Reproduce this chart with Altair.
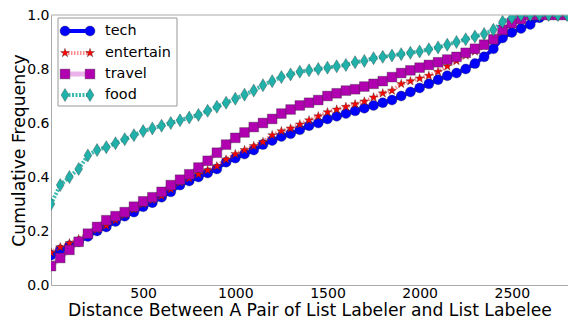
import altair as alt
import pandas as pd

# ---- data (CDF curves) ----
x_vals = [0, 50, 100, 150, 200, 250, 300, 350, 400, 450, 500, 550, 600, 650, 700,
          750, 800, 850, 900, 950, 1000, 1050, 1100, 1150, 1200, 1250, 1300, 1350,
          1400, 1450, 1500, 1550, 1600, 1650, 1700, 1750, 1800, 1850, 1900, 1950,
          2000, 2050, 2100, 2150, 2200, 2250, 2300, 2350, 2400, 2450, 2500, 2550,
          2600, 2650, 2700, 2750, 2800, 2850]

tech = [0.11, 0.13, 0.145, 0.16, 0.18, 0.20, 0.215, 0.235, 0.255, 0.27, 0.29, 0.305,
        0.325, 0.345, 0.37, 0.385, 0.40, 0.415, 0.43, 0.455, 0.47, 0.485, 0.50, 0.52,
        0.535, 0.55, 0.56, 0.575, 0.59, 0.60, 0.615, 0.625, 0.635, 0.645, 0.655, 0.665,
        0.675, 0.685, 0.70, 0.715, 0.73, 0.745, 0.76, 0.775, 0.785, 0.80, 0.82, 0.845,
        0.875, 0.915, 0.935, 0.95, 0.965, 0.99, 1.0, 1.0, 1.0, 1.0]

entertain = [0.12, 0.14, 0.155, 0.17, 0.19, 0.205, 0.22, 0.24, 0.26, 0.28, 0.30, 0.315,
             0.33, 0.355, 0.38, 0.395, 0.41, 0.425, 0.44, 0.465, 0.485, 0.50, 0.515, 0.53,
             0.555, 0.57, 0.58, 0.595, 0.61, 0.625, 0.64, 0.65, 0.66, 0.67, 0.68, 0.695,
             0.71, 0.72, 0.745, 0.755, 0.765, 0.775, 0.79, 0.81, 0.83, 0.85, 0.865, 0.885,
             0.91, 0.94, 0.965, 0.985, 1.0, 1.0, 1.0, 1.0, 1.0, 1.0]

travel = [0.07, 0.10, 0.13, 0.16, 0.19, 0.215, 0.24, 0.255, 0.27, 0.29, 0.31, 0.325,
          0.345, 0.37, 0.39, 0.41, 0.435, 0.46, 0.49, 0.52, 0.545, 0.565, 0.585, 0.60,
          0.615, 0.635, 0.65, 0.665, 0.675, 0.685, 0.70, 0.71, 0.72, 0.725, 0.735, 0.745,
          0.755, 0.77, 0.785, 0.795, 0.805, 0.815, 0.825, 0.835, 0.845, 0.86, 0.875, 0.89,
          0.91, 0.945, 0.97, 0.985, 1.0, 1.0, 1.0, 1.0, 1.0, 1.0]

food = [0.30, 0.37, 0.40, 0.43, 0.48, 0.50, 0.51, 0.525, 0.54, 0.555, 0.57, 0.58,
        0.59, 0.60, 0.61, 0.62, 0.63, 0.645, 0.66, 0.675, 0.69, 0.705, 0.72, 0.74,
        0.755, 0.77, 0.78, 0.79, 0.795, 0.80, 0.805, 0.81, 0.815, 0.825, 0.83, 0.84,
        0.845, 0.85, 0.855, 0.86, 0.865, 0.873, 0.88, 0.89, 0.90, 0.91, 0.92, 0.93,
        0.945, 0.975, 0.99, 1.0, 1.0, 1.0, 1.0, 1.0, 1.0, 1.0]

series_names = ["tech", "entertain", "travel", "food"]
series_values = [tech, entertain, travel, food]
x_ticks = [500, 1000, 1500, 2000, 2500]
y_ticks = [0.0, 0.2, 0.4, 0.6, 0.8, 1.0]
x_title = "Distance Between A Pair of List Labeler and List Labelee"
y_title = "Cumulative Frequency"

# ---- styling ----
FONT = "DejaVu Sans"
W, H = 517, 270
SPINE = "#aaaaaa"
STAR = ("M0,-1L0.225,-0.309L0.951,-0.309L0.363,0.118L0.588,0.809L0,0.382"
        "L-0.588,0.809L-0.363,0.118L-0.951,-0.309L-0.225,-0.309Z")
TDIAM = "M0,-1L0.6,0L0,1L-0.6,0Z"

styles = {
    "tech": dict(color="#0000ff", shape="circle", size=100,
                 dash=[1, 0], lw=4, lop=1.0, lcolor="#0000ff"),
    "entertain": dict(color="#ff0000", shape=STAR, size=90,
                      dash=[1.5, 1.5], lw=4, lop=0.45, lcolor="#ff0000"),
    "travel": dict(color="#b000b0", shape="square", size=95,
                   dash=[1, 0], lw=5, lop=0.3, lcolor="#c000c0"),
    "food": dict(color="#20b2aa", shape=TDIAM, size=170,
                 dash=[2, 1.5], lw=4, lop=0.9, lcolor="#20b2aa"),
}

xs = alt.Scale(domain=[0, 2805], nice=False, zero=False)
ys = alt.Scale(domain=[0, 1], nice=False)

x_axis = alt.Axis(values=x_ticks, format="d", title=x_title, grid=False, ticks=False,
                  domain=True, domainColor=SPINE, domainWidth=1,
                  labelFont=FONT, labelFontSize=14, labelColor="black", labelPadding=1,
                  labelFlush=False, titleFont=FONT, titleFontSize=17.2,
                  titleFontWeight="normal", titleColor="black", titleX=W / 2, titleY=30,
                  titleBaseline="alphabetic", titleAlign="center")
y_axis = alt.Axis(values=y_ticks, format=".1f", title=y_title, grid=False, ticks=False,
                  domain=True, domainColor=SPINE, domainWidth=1,
                  labelFont=FONT, labelFontSize=14, labelColor="black",
                  labelPadding=2, labelFlush=False, titleFont=FONT, titleFontSize=17.2,
                  titleFontWeight="normal", titleColor="black", titleAngle=270,
                  titleX=-27, titleY=H / 2, titleBaseline="alphabetic",
                  titleAlign="center")

layers = []
for name, vals in zip(series_names, series_values):
    st = styles[name]
    df = pd.DataFrame({"x": x_vals, "y": vals, "series": name})
    enc = dict(x=alt.X("x:Q", scale=xs, axis=x_axis),
               y=alt.Y("y:Q", scale=ys, axis=y_axis))
    line = alt.Chart(df).mark_line(
        color=st["lcolor"], strokeWidth=st["lw"], strokeDash=st["dash"],
        opacity=st["lop"], clip=True
    ).encode(**enc)
    pts = alt.Chart(df).mark_point(
        shape=st["shape"], size=st["size"], filled=True, fill=st["color"],
        stroke="#333333", strokeWidth=0.6, strokeOpacity=0.6, opacity=1, clip=True
    ).encode(**enc)
    layers += [line, pts]

one = alt.Data(values=[{"a": 1}])
# top spine
layers.append(alt.Chart(one).mark_rule(color=SPINE, strokeWidth=1).encode(
    x=alt.value(0), x2=alt.value(W), y=alt.value(0)))

# ---- legend (drawn box with line + two markers per entry) ----
box = alt.Chart(one).mark_rect(fill="white", stroke="#999999", strokeWidth=1).encode(
    x=alt.value(7), x2=alt.value(126), y=alt.value(3), y2=alt.value(91))
layers.append(box)
leg_y = [16, 38, 59, 80]
for name, yy in zip(series_names, leg_y):
    st = styles[name]
    layers.append(alt.Chart(one).mark_rule(
        color=st["lcolor"], strokeWidth=st["lw"], strokeDash=st["dash"],
        opacity=st["lop"]).encode(x=alt.value(14), x2=alt.value(39), y=alt.value(yy)))
    for xx in (14, 39):
        layers.append(alt.Chart(one).mark_point(
            shape=st["shape"], size=st["size"], filled=True, fill=st["color"],
            stroke="#333333", strokeWidth=0.6, strokeOpacity=0.6, opacity=1
        ).encode(x=alt.value(xx), y=alt.value(yy)))
    layers.append(alt.Chart(one).mark_text(
        text=name, font=FONT, fontSize=14.4, align="left", baseline="middle",
        color="black").encode(x=alt.value(54), y=alt.value(yy)))

chart = alt.layer(*layers).properties(
    width=W, height=H,
    autosize=alt.AutoSizeParams(type="none"),
    padding={"left": 43, "top": 7, "right": 0, "bottom": 34},
    background="white",
).configure_view(stroke=None)

chart.save("out.html", embed_options={"renderer": "svg", "actions": False})
